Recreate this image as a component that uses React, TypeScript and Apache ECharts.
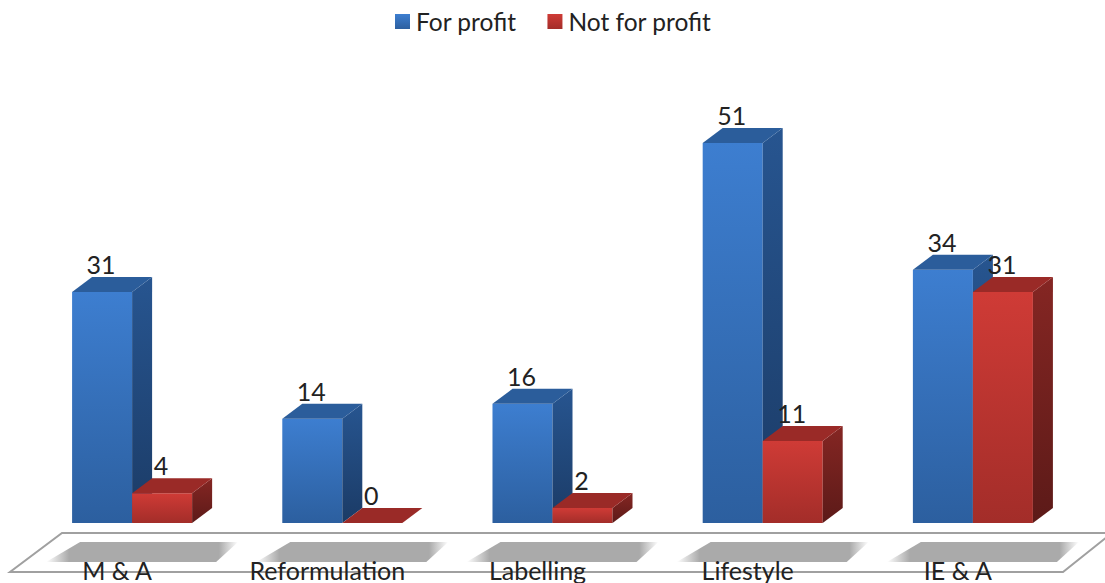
import React, { useEffect, useRef } from "react";
import * as echarts from "echarts";

const categories = ["M & A", "Reformulation", "Labelling", "Lifestyle", "IE & A"];
const forProfit = [31, 14, 16, 51, 34];
const notForProfit = [4, 0, 2, 11, 31];

const FONT = "Lato";
const grad = (a: string, b: string) => ({
  type: "linear", x: 0, y: 0, x2: 0, y2: 1,
  colorStops: [{ offset: 0, color: a }, { offset: 1, color: b }],
});
const BLUE = { front: grad("#3D7ED0", "#2C5F9F"), side: grad("#275590", "#1B3B66"), top: "#2B5D9B" };
const RED = { front: grad("#CF3B36", "#A32D29"), side: grad("#852623", "#5C1A18"), top: "#9A2A27" };
const PAD_FILL = {
  type: "linear", x: 0, y: 0, x2: 1, y2: 0,
  colorStops: [
    { offset: 0, color: "rgba(170,170,170,0)" },
    { offset: 0.12, color: "#AAAAAA" },
    { offset: 0.9, color: "#AAAAAA" },
    { offset: 1, color: "rgba(170,170,170,0)" },
  ],
};

function bar3d(offset: number, pal: typeof BLUE) {
  return (params: any, api: any) => {
    const idx = api.value(0);
    const value = api.value(1);
    const [cx, yTop] = api.coord([idx, value]);
    const [, yBase] = api.coord([idx, 0]);
    const band = api.size([1, 0])[0];
    const w = band * 0.2855;
    const x0 = cx + offset * w;
    const x1 = x0 + w;
    const dx = 20, dy = 15;
    const children: any[] = [];
    if (yBase - yTop > 0.5) {
      children.push({ type: "rect", shape: { x: x0, y: yTop, width: w, height: yBase - yTop }, style: { fill: pal.front } });
      children.push({
        type: "polygon",
        shape: { points: [[x1, yTop], [x1 + dx, yTop - dy], [x1 + dx, yBase - dy], [x1, yBase]] },
        style: { fill: pal.side },
      });
    }
    children.push({
      type: "polygon",
      shape: { points: [[x0, yTop], [x0 + dx, yTop - dy], [x1 + dx, yTop - dy], [x1, yTop]] },
      style: { fill: pal.top },
    });
    children.push({
      type: "text", z2: 50,
      style: {
        text: String(value), x: x0 + 29, y: yTop - 28, align: "center", verticalAlign: "middle",
        font: `25px ${FONT}`, fill: "#222222",
      },
    });
    return { type: "group", children };
  };
}

function padShadow(params: any, api: any) {
  const idx = api.value(0);
  const [cx] = api.coord([idx, 0]);
  const top = 542, bottom = 562;
  return {
    type: "polygon",
    shape: { points: [[cx - 52, top], [cx + 106, top], [cx + 84, bottom], [cx - 86, bottom]] },
    style: { fill: PAD_FILL },
    silent: true,
  };
}

export default function App() {
  const ref = useRef<HTMLDivElement>(null);
  useEffect(() => {
    const chart = echarts.init(ref.current!, undefined, { renderer: "svg" });
    chart.setOption({
      animation: false,
      backgroundColor: "#FFFFFF",
      textStyle: { fontFamily: FONT },
      legend: {
        top: 4, left: 390, itemWidth: 15, itemHeight: 15, itemGap: 31,
        icon: "rect",
        textStyle: { fontSize: 24.5, color: "#222222", fontFamily: FONT, padding: [0, 0, 0, 1] },
        data: [
          { name: "For profit", itemStyle: { color: BLUE.front } },
          { name: "Not for profit", itemStyle: { color: RED.front } },
        ],
      },
      grid: { left: 27, right: 27, top: 76, bottom: 60 },
      xAxis: {
        type: "category", data: categories, z: 10,
        axisLine: { show: false }, axisTick: { show: false },
        axisLabel: { fontSize: 25, color: "#222222", fontFamily: FONT, margin: 34, padding: [0, 30, 0, 0], interval: 0 },
      },
      yAxis: { type: "value", min: 0, max: 60, show: false, splitLine: { show: false } },
      graphic: [{
        type: "polygon", z: -1,
        shape: { points: [[62, 533], [1112, 533], [1063, 572], [10, 572]] },
        style: { fill: "#FFFFFF", stroke: "#A0A0A0", lineWidth: 2 },
        silent: true,
      }],
      series: [
        {
          type: "custom", name: "pad", silent: true, z: 1,
          renderItem: padShadow, data: categories.map((_, i) => [i, 0]), encode: { x: 0, y: 1 }, clip: false,
        },
        {
          type: "custom", name: "For profit", z: 3, renderItem: bar3d(-1, BLUE), clip: false,
          itemStyle: { color: "#3D7ED0" },
          data: forProfit.map((v, i) => [i, v]), encode: { x: 0, y: 1 },
        },
        {
          type: "custom", name: "Not for profit", z: 4, renderItem: bar3d(0, RED), clip: false,
          itemStyle: { color: "#CF3B36" },
          data: notForProfit.map((v, i) => [i, v]), encode: { x: 0, y: 1 },
        },
      ],
    });
    return () => chart.dispose();
  }, []);
  return <div ref={ref} style={{ position: "fixed", left: 0, top: 0, width: 1105, height: 583 }} />;
}
